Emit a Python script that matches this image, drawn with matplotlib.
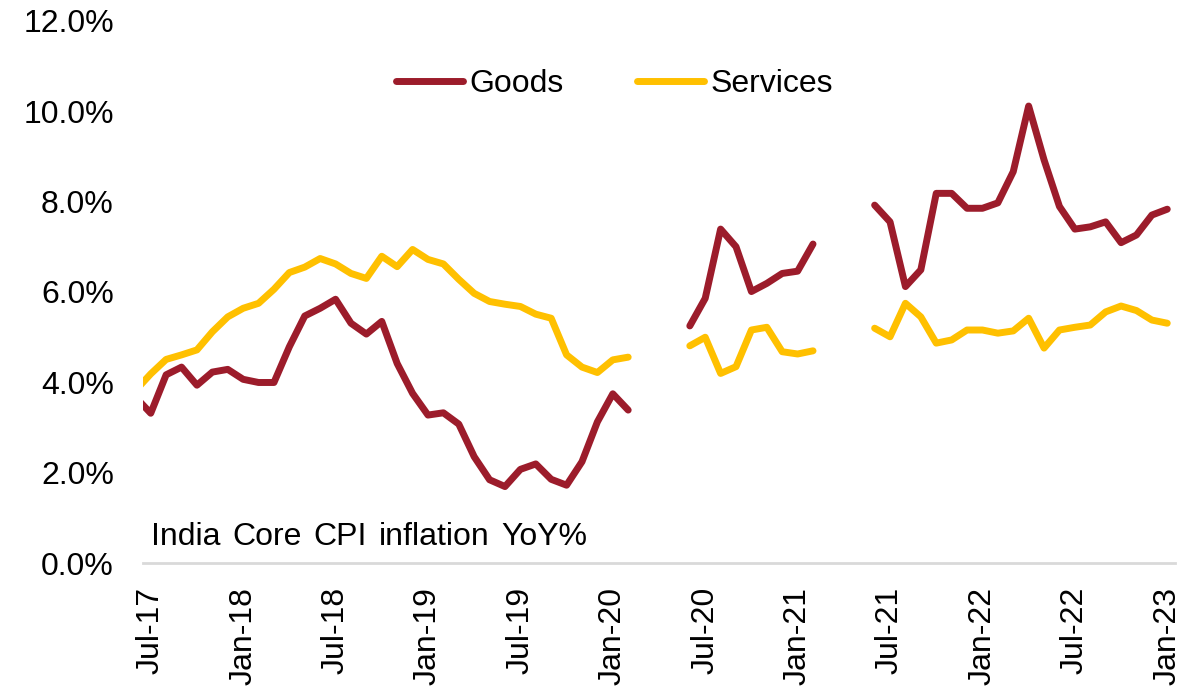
import numpy as np
import pandas as pd
import matplotlib
matplotlib.use("Agg")
import matplotlib.pyplot as plt
from matplotlib.transforms import offset_copy

plt.rcParams['font.family'] = ['Liberation Sans', 'DejaVu Sans']

# Monthly data, Jun-17 .. Jan-23 (NaN = no data)
months = pd.date_range('2017-06-01', '2023-01-01', freq='MS')
nan = np.nan
goods = [3.68, 3.32, 4.17, 4.34, 3.94, 4.23, 4.29, 4.07, 4.00, 4.00, 4.79, 5.47,
         5.64, 5.84, 5.31, 5.07, 5.35, 4.42, 3.76, 3.28, 3.33, 3.08, 2.36, 1.85,
         1.70, 2.08, 2.20, 1.86, 1.73, 2.25, 3.13, 3.75, 3.39, nan, nan, nan,
         5.25, 5.86, 7.39, 7.00, 6.01, 6.19, 6.41, 6.46, 7.06, nan, nan, nan,
         7.92, 7.55, 6.12, 6.49, 8.18, 8.18, 7.85, 7.85, 7.97, 8.66, 10.11, 8.92,
         7.89, 7.39, 7.44, 7.55, 7.09, 7.26, 7.70, 7.83]
services = [3.82, 4.19, 4.51, 4.61, 4.72, 5.12, 5.45, 5.64, 5.75, 6.06, 6.43, 6.55,
            6.74, 6.62, 6.41, 6.30, 6.79, 6.56, 6.94, 6.72, 6.62, 6.28, 5.97, 5.79,
            5.73, 5.68, 5.51, 5.42, 4.61, 4.34, 4.22, 4.50, 4.56, nan, nan, nan,
            4.81, 5.00, 4.20, 4.35, 5.16, 5.22, 4.68, 4.63, 4.70, nan, nan, nan,
            5.20, 5.01, 5.75, 5.45, 4.87, 4.94, 5.16, 5.16, 5.09, 5.14, 5.42, 4.76,
            5.16, 5.22, 5.27, 5.56, 5.69, 5.59, 5.38, 5.31]

# x position: month index with Jul-17 = 0
x = np.arange(len(months)) - 1

fig = plt.figure(figsize=(12.03, 6.93), dpi=100)
ax = fig.add_axes([0.1189, 0.1869, 0.8578, 0.7835])

ax.plot(x, goods, color='#9C1C2B', lw=5, label='Goods',
        solid_capstyle='round', solid_joinstyle='round')
ax.plot(x, services, color='#FFC000', lw=5, label='Services',
        solid_capstyle='round', solid_joinstyle='round')

ax.set_xlim(-0.5, 66.5)
ax.set_ylim(0, 12)

ticks = np.arange(0, 67, 6)
ax.set_xticks(ticks)
ax.set_xticklabels([months[t + 1].strftime('%b-%y') for t in ticks],
                   rotation=90, fontsize=23)
ax.set_yticks(np.arange(0, 13, 2))
ax.set_yticklabels([f'{v:.1f}%' for v in np.arange(0, 13, 2)], fontsize=23)
ax.tick_params(axis='both', length=0)
ax.tick_params(axis='x', pad=17)
ax.tick_params(axis='y', pad=21)

for s in ['top', 'right', 'left']:
    ax.spines[s].set_visible(False)
ax.spines['bottom'].set_color('#d9d9d9')
ax.spines['bottom'].set_linewidth(2)

# caption: words laid out one after another with a slightly wide gap
caption = ['India', 'Core', 'CPI', 'inflation', 'YoY%']
fig.canvas.draw()
renderer = fig.canvas.get_renderer()
shift = 0.0
for w in caption:
    tr = offset_copy(ax.transAxes, fig=fig, x=shift * 72 / fig.dpi, y=0, units='points')
    t = ax.text(0.0075, 0.049, w, transform=tr, fontsize=23, va='center', ha='left')
    shift += t.get_window_extent(renderer).width + 12

ax.legend(loc='center', bbox_to_anchor=(0.4568, 0.8825), ncol=2, frameon=False,
          fontsize=23, handlelength=2.1, handletextpad=0.2, columnspacing=2.3)

fig.savefig('out.png', dpi=100)
